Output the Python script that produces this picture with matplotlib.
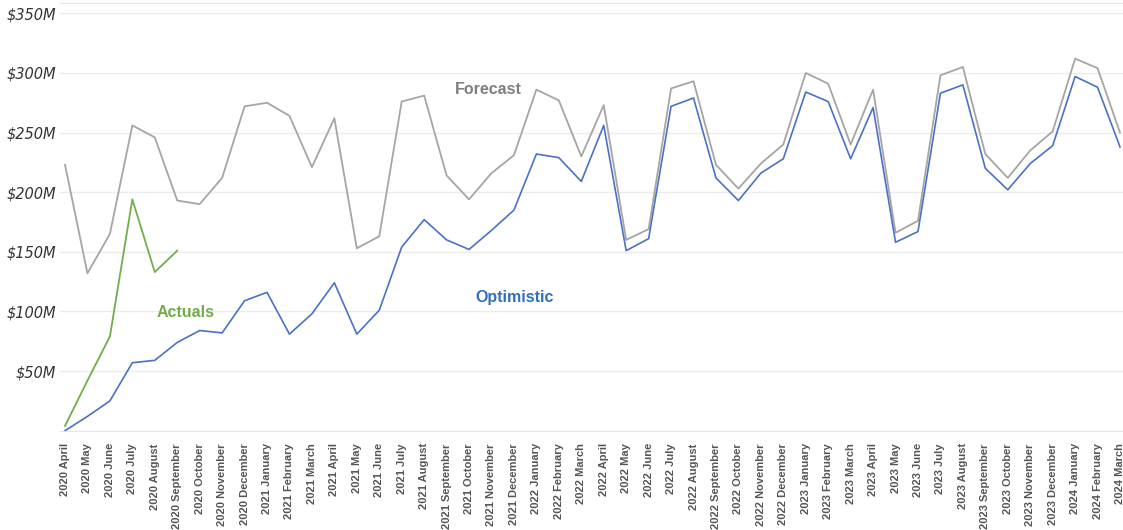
import matplotlib
matplotlib.use("Agg")
import matplotlib.pyplot as plt
from matplotlib.ticker import FuncFormatter

# months on the x axis
months = ["April", "May", "June", "July", "August", "September", "October",
          "November", "December", "January", "February", "March"]
labels = []
year = 2020
for i in range(48):
    m = months[i % 12]
    if m == "January":
        year += 1
    labels.append(f"{year} {m}")

# values in $M
forecast = [223, 132, 165, 256, 246, 193, 190, 212, 272, 275, 264, 221,
            262, 153, 163, 276, 281, 214, 194, 216, 231, 286, 277, 230,
            273, 160, 169, 287, 293, 223, 203, 224, 240, 300, 291, 240,
            286, 166, 176, 298, 305, 232, 212, 235, 251, 312, 304, 250]
optimistic = [0, 12, 25, 57, 59, 74, 84, 82, 109, 116, 81, 98,
              124, 81, 101, 154, 177, 160, 152, 168, 185, 232, 229, 209,
              256, 151, 161, 272, 279, 212, 193, 216, 228, 284, 276, 228,
              271, 158, 167, 283, 290, 220, 202, 224, 239, 297, 288, 238]
actuals = [4, 42, 79, 194, 133, 151]

c_fc = "#a5a5a5"
c_op = "#4a72c4"
c_ac = "#72ad4a"

fig = plt.figure(figsize=(11.23, 5.30), dpi=100)
ax = fig.add_axes([60 / 1123, (530 - 430.7) / 530, 1063 / 1123, 427.4 / 530])

x = list(range(len(labels)))
ax.plot(x, forecast, color=c_fc, lw=1.3, zorder=3)
ax.plot(x, optimistic, color=c_op, lw=1.2, zorder=4)
ax.plot(x[:len(actuals)], actuals, color=c_ac, lw=1.3, zorder=5)

ax.text(18.84, 285.7, "Forecast", color="#7f7f7f", fontsize=11.5,
        fontweight="bold", ha="center", va="center", family="Liberation Sans")
ax.text(20.04, 112.1, "Optimistic", color="#2e6fbe", fontsize=11.5,
        fontweight="bold", ha="center", va="center", family="Liberation Sans")
ax.text(5.37, 99.5, "Actuals", color=c_ac, fontsize=11.5,
        fontweight="bold", ha="center", va="center", family="Liberation Sans")

ax.set_xlim(-5 / 22.45, 47 + 3 / 22.45)
ax.set_ylim(0, 358.4)
ax.set_yticks([50, 100, 150, 200, 250, 300, 350])
ax.yaxis.set_major_formatter(FuncFormatter(lambda v, p: f"${int(v)}M"))
ax.set_xticks(x)
ax.set_xticklabels(labels, rotation=90, fontsize=8, fontweight="bold",
                   color="#555555", family="Liberation Sans")
for t in ax.get_yticklabels():
    t.set_fontstyle("italic")
    t.set_fontsize(10.5)
    t.set_color("#333333")

ax.tick_params(axis="both", length=0)
ax.tick_params(axis="x", pad=9)
ax.tick_params(axis="y", pad=3)
ax.grid(axis="y", color="#ececec", lw=1)
ax.set_axisbelow(True)
for s in ["left", "right"]:
    ax.spines[s].set_visible(False)
ax.spines["top"].set_color("#e6e6e6")
ax.spines["bottom"].set_color("#e6e6e6")

fig.savefig("out.png", dpi=100)
